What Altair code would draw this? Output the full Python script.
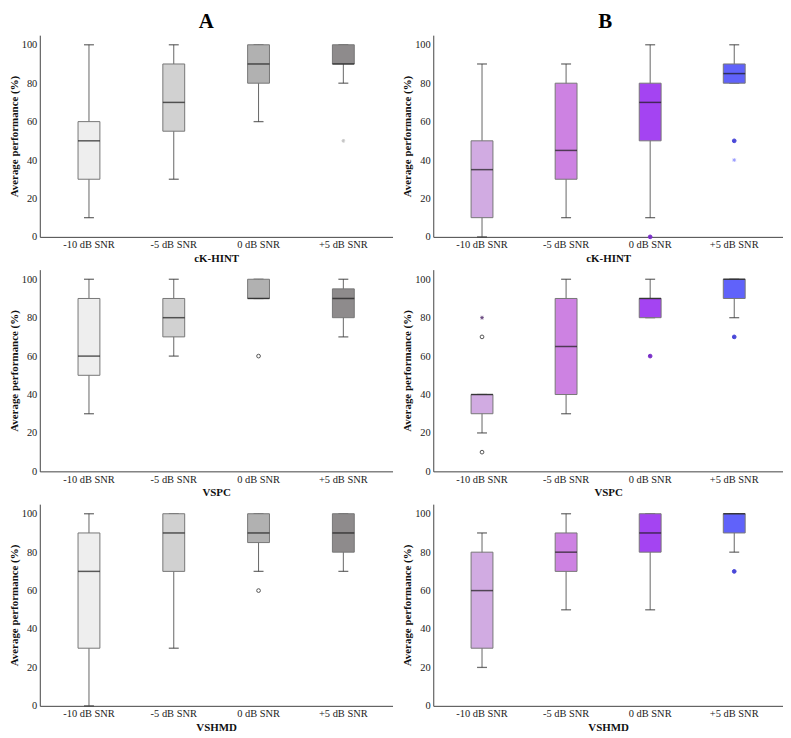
import altair as alt
import pandas as pd

SNR = ["-10 dB SNR", "-5 dB SNR", "0 dB SNR", "+5 dB SNR"]
TESTS = ["cK-HINT", "VSPC", "VSHMD"]

# Box statistics per group and test, in SNR order: lower whisker, Q1, median, Q3, upper whisker
A_LO = {"cK-HINT": [10, 30, 60, 80], "VSPC": [30, 60, 90, 70], "VSHMD": [0, 30, 70, 70]}
A_Q1 = {"cK-HINT": [30, 55, 80, 90], "VSPC": [50, 70, 90, 80], "VSHMD": [30, 70, 85, 80]}
A_MED = {"cK-HINT": [50, 70, 90, 90], "VSPC": [60, 80, 90, 90], "VSHMD": [70, 90, 90, 90]}
A_Q3 = {"cK-HINT": [60, 90, 100, 100], "VSPC": [90, 90, 100, 95], "VSHMD": [90, 100, 100, 100]}
A_HI = {"cK-HINT": [100, 100, 100, 100], "VSPC": [100, 100, 100, 100], "VSHMD": [100, 100, 100, 100]}

B_LO = {"cK-HINT": [0, 10, 10, 80], "VSPC": [20, 30, 80, 80], "VSHMD": [20, 50, 50, 80]}
B_Q1 = {"cK-HINT": [10, 30, 50, 80], "VSPC": [30, 40, 80, 90], "VSHMD": [30, 70, 80, 90]}
B_MED = {"cK-HINT": [35, 45, 70, 85], "VSPC": [40, 65, 90, 100], "VSHMD": [60, 80, 90, 100]}
B_Q3 = {"cK-HINT": [50, 80, 80, 90], "VSPC": [40, 90, 90, 100], "VSHMD": [80, 90, 100, 100]}
B_HI = {"cK-HINT": [90, 90, 100, 100], "VSPC": [40, 100, 100, 100], "VSHMD": [90, 100, 100, 100]}

COLORS_A = ["#eeeeee", "#d1d1d1", "#b1b1b1", "#8e8b8c"]
COLORS_B = ["#d1abe2", "#cd82e2", "#a444f2", "#6062fa"]
STAR_A = "#c4c4c4"
STAR_B = ["#6a4a80", "#cd82e2", "#a444f2", "#9a9cff"]

# Outliers: group, test, snr, value, kind
OUT_GROUP = ["A", "A", "A", "B", "B", "B", "B", "B", "B", "B", "B", "B"]
OUT_TEST = ["cK-HINT", "VSPC", "VSHMD", "cK-HINT", "cK-HINT", "cK-HINT",
            "VSPC", "VSPC", "VSPC", "VSPC", "VSPC", "VSHMD"]
OUT_SNR = ["+5 dB SNR", "0 dB SNR", "0 dB SNR", "0 dB SNR", "+5 dB SNR", "+5 dB SNR",
           "-10 dB SNR", "-10 dB SNR", "-10 dB SNR", "0 dB SNR", "+5 dB SNR", "+5 dB SNR"]
OUT_VALUE = [50, 60, 60, 0, 50, 40, 80, 70, 10, 60, 70, 70]
OUT_KIND = ["star", "open", "open", "dot", "dot", "star", "star", "open", "open", "dot", "dot", "dot"]

Y_TICKS = [0, 20, 40, 60, 80, 100]

FONT = "Liberation Serif"

STATS = {"A": (A_LO, A_Q1, A_MED, A_Q3, A_HI, COLORS_A),
         "B": (B_LO, B_Q1, B_MED, B_Q3, B_HI, COLORS_B)}

ASTERISK = "M-1,0L1,0M0,-1L0,1M-0.7,-0.7L0.7,0.7M-0.7,0.7L0.7,-0.7"


def box_frame(group, test):
    lo, q1, med, q3, hi, cols = STATS[group]
    return pd.DataFrame({"snr": SNR, "lo": lo[test], "q1": q1[test], "med": med[test],
                         "q3": q3[test], "hi": hi[test], "color": cols})


def out_frame(group, test):
    rows = []
    for g, t, s, v, k in zip(OUT_GROUP, OUT_TEST, OUT_SNR, OUT_VALUE, OUT_KIND):
        if g == group and t == test:
            i = SNR.index(s)
            if k == "dot":
                dark = "#7a30c8" if group == "B" and i < 3 else ("#4a48d8" if group == "B" else "#777777")
                rows.append({"snr": s, "value": v, "fill": dark, "stroke": dark, "shape": "circle"})
            elif k == "open":
                rows.append({"snr": s, "value": v, "fill": "white", "stroke": "#555555", "shape": "circle"})
            else:
                sc = STAR_A if group == "A" else STAR_B[i]
                rows.append({"snr": s, "value": v, "fill": "none", "stroke": sc, "shape": ASTERISK})
    return pd.DataFrame(rows)


WIDTHS = {"A": 355, "B": 352}
H = 203
TITLE_DX = {"A": 6, "B": 13}


def Y(field):
    return alt.Y(field, type="quantitative",
                 scale=alt.Scale(domain=[0, 105], nice=False, zero=True),
                 axis=alt.Axis(title="Average performance (%)", values=Y_TICKS,
                               labelOverlap=False, labelFont=FONT, titleFont=FONT,
                               labelFontSize=10.5, labelColor="#222222"))


def X():
    return alt.X("snr:N", sort=SNR, scale=alt.Scale(paddingInner=0, paddingOuter=0.08),
                 axis=alt.Axis(labelAngle=0, labelFont=FONT, labelFontSize=10.5,
                               labelColor="#222222", labelOverlap=False))


def panel(group, test):
    df = box_frame(group, test)
    base = alt.Chart(df)
    whisk = base.mark_rule(color="#666666", strokeWidth=1).encode(
        x=X(), y=Y("lo"), y2="hi:Q")
    cap_lo = base.mark_tick(size=10, thickness=1.3, color="#333333").encode(x=X(), y=Y("lo"))
    cap_hi = base.mark_tick(size=10, thickness=1.3, color="#333333").encode(x=X(), y=Y("hi"))
    box = base.mark_bar(size=22, stroke="#777777", strokeWidth=1).encode(
        x=X(), y=Y("q1"), y2="q3:Q", fill=alt.Fill("color:N", scale=None))
    med = base.mark_tick(size=22, thickness=1.5, color="#1a1a1a").encode(x=X(), y=Y("med"))
    layers = [whisk, cap_lo, cap_hi, box, med]
    od = out_frame(group, test)
    if len(od):
        pts = alt.Chart(od).mark_point(size=14, strokeWidth=1, opacity=1, filled=False).encode(
            x=X(),
            y=Y("value"),
            shape=alt.Shape("shape:N", scale=None),
            fill=alt.Fill("fill:N", scale=None),
            stroke=alt.Stroke("stroke:N", scale=None),
        )
        layers.append(pts)
    return alt.layer(*layers).encode(
        x=alt.X("snr:N", sort=SNR, title=test)
    ).properties(width=WIDTHS[group], height=H)


def column(group):
    return alt.vconcat(*[panel(group, t) for t in TESTS], spacing=6).properties(
        title=alt.TitleParams(group, font=FONT, fontSize=21, fontWeight="bold",
                              anchor="middle", color="black", offset=3, dx=TITLE_DX[group]))


chart = alt.hconcat(column("A"), column("B"), spacing=9).properties(
    padding={"left": 0, "top": 1, "right": 0, "bottom": 0}
).configure(font=FONT).configure_view(stroke=None).configure_axis(
    labelFont=FONT, labelFontSize=10.5, labelColor="#222222",
    titleFont=FONT, titleFontSize=11, titleFontWeight="bold", titleColor="#111111",
    domainColor="#444444", domainWidth=1, ticks=False, grid=False,
    labelPadding=3, titlePadding=2,
)

chart.save("out.html", embed_options={"renderer": "svg", "actions": False})
